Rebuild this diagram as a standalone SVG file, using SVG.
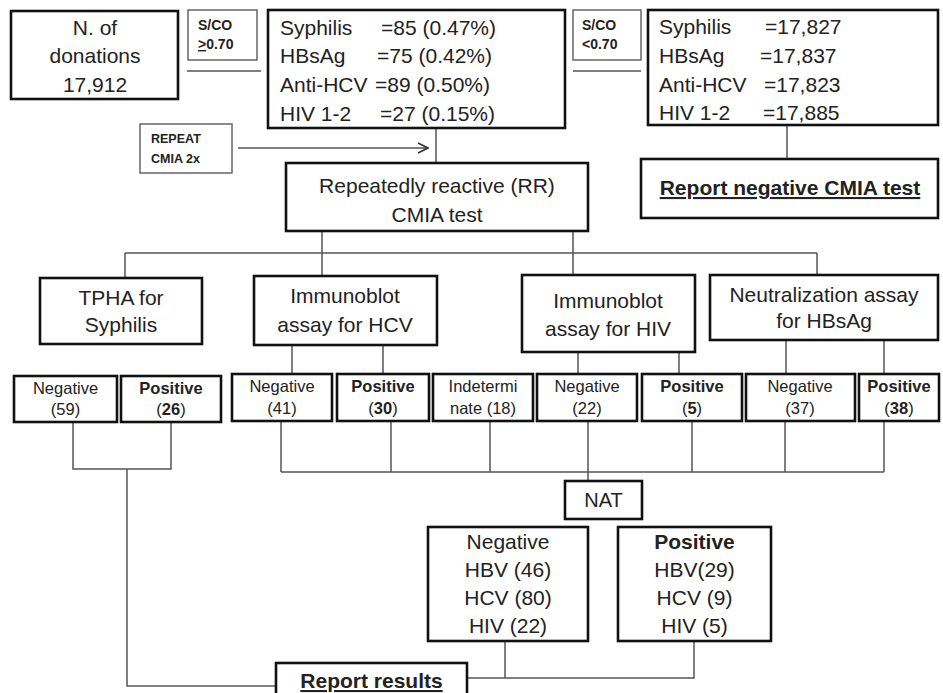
<svg xmlns="http://www.w3.org/2000/svg" width="943" height="693" viewBox="0 0 943 693">
<defs>
<marker id="chev" markerWidth="12" markerHeight="12" refX="11" refY="6" orient="auto" markerUnits="userSpaceOnUse">
<path d="M1,1 L11,6 L1,11" fill="none" stroke="#333" stroke-width="1.6"/>
</marker>
<style>
text{font-family:"Liberation Sans",Arial,sans-serif;fill:#222}
.box{fill:#fff;stroke:#111;stroke-width:2.6}
.thin{fill:#fff;stroke:#666;stroke-width:1.5}
.ln{fill:none;stroke:#555;stroke-width:1.5}
.big{font-size:21px}
.mid{font-size:16.5px}
.lbl{font-size:14px;font-weight:bold}
.c{text-anchor:middle}
.b{font-weight:bold}
.u{text-decoration:underline}
</style>
</defs>
<rect width="943" height="693" fill="#fff"/>

<g id="connectors">
<line class="ln" x1="187" y1="71" x2="261" y2="71"/>
<line class="ln" x1="573" y1="71" x2="641" y2="71"/>
<line class="ln" x1="787" y1="125" x2="787" y2="159"/>
<line class="ln" x1="436" y1="128" x2="436" y2="163"/>
<line class="ln" x1="238" y1="148" x2="428" y2="148" marker-end="url(#chev)"/>
<line class="ln" x1="125" y1="253" x2="817" y2="253"/>
<line class="ln" x1="322" y1="231" x2="322" y2="276"/>
<line class="ln" x1="573" y1="231" x2="573" y2="275"/>
<line class="ln" x1="125" y1="253" x2="125" y2="278"/>
<line class="ln" x1="817" y1="253" x2="817" y2="275"/>
<line class="ln" x1="292" y1="345" x2="292" y2="374"/>
<line class="ln" x1="383" y1="345" x2="383" y2="374"/>
<line class="ln" x1="578" y1="352" x2="578" y2="374"/>
<line class="ln" x1="679" y1="352" x2="679" y2="374"/>
<line class="ln" x1="786" y1="340" x2="786" y2="374"/>
<line class="ln" x1="884" y1="340" x2="884" y2="374"/>
<polyline class="ln" points="73,422 73,469 171,469 171,422"/>
<polyline class="ln" points="127,469 127,686 276,686"/>
<line class="ln" x1="281" y1="472" x2="884" y2="472"/>
<line class="ln" x1="281" y1="421" x2="281" y2="472"/>
<line class="ln" x1="391" y1="421" x2="391" y2="472"/>
<line class="ln" x1="490" y1="421" x2="490" y2="472"/>
<line class="ln" x1="588" y1="421" x2="588" y2="481"/>
<line class="ln" x1="692" y1="421" x2="692" y2="472"/>
<line class="ln" x1="785" y1="421" x2="785" y2="472"/>
<line class="ln" x1="884" y1="421" x2="884" y2="472"/>
<line class="ln" x1="505" y1="641" x2="505" y2="678"/>
<polyline class="ln" points="467,678 694,678 694,641"/>
</g>

<g id="donations">
<rect class="box" x="11" y="11" width="167" height="88"/>
<text class="big c" x="95" y="35">N. of</text>
<text class="big c" x="95" y="63">donations</text>
<text class="big c" x="95" y="92">17,912</text>
</g>

<g id="sco-high">
<rect class="thin" x="188" y="10" width="69" height="50"/>
<text class="lbl" x="198" y="30">S/CO</text>
<text class="lbl" x="198" y="49"><tspan class="u">&gt;</tspan>0.70</text>
</g>

<g id="reactive">
<rect class="box" x="268" y="10" width="297" height="118"/>
<text class="big" x="280" y="35">Syphilis</text><text class="big" x="381" y="35">=85 (0.47%)</text>
<text class="big" x="280" y="63">HBsAg</text><text class="big" x="377" y="63">=75 (0.42%)</text>
<text class="big" x="280" y="92">Anti-HCV</text><text class="big" x="375" y="92">=89 (0.50%)</text>
<text class="big" x="280" y="121">HIV 1-2</text><text class="big" x="380" y="121">=27 (0.15%)</text>
</g>

<g id="sco-low">
<rect class="thin" x="573" y="10" width="68" height="50"/>
<text class="lbl" x="582" y="30">S/CO</text>
<text class="lbl" x="582" y="49">&lt;0.70</text>
</g>

<g id="nonreactive">
<rect class="box" x="648" y="10" width="290" height="115"/>
<text class="big" x="659" y="34">Syphilis</text><text class="big" x="765" y="34">=17,827</text>
<text class="big" x="659" y="63">HBsAg</text><text class="big" x="760" y="63">=17,837</text>
<text class="big" x="659" y="92">Anti-HCV</text><text class="big" x="764" y="92">=17,823</text>
<text class="big" x="659" y="120">HIV 1-2</text><text class="big" x="763" y="120">=17,885</text>
</g>

<g id="report-negative">
<rect class="box" x="641" y="159" width="297" height="59"/>
<text class="big c b u" x="790" y="195">Report negative CMIA test</text>
</g>

<g id="repeat">
<rect class="thin" x="140" y="124" width="92" height="49"/>
<text class="lbl" x="151" y="143" style="font-size:12.5px">REPEAT</text>
<text class="lbl" x="151" y="163" style="font-size:12.5px">CMIA 2x</text>
</g>

<g id="rr">
<rect class="box" x="286" y="163" width="302" height="68"/>
<text class="big c" x="437" y="193">Repeatedly reactive (RR)</text>
<text class="big c" x="437" y="222">CMIA test</text>
</g>

<g id="tpha">
<rect class="box" x="40" y="278" width="162" height="66"/>
<text class="big c" x="121" y="305">TPHA for</text>
<text class="big c" x="121" y="332">Syphilis</text>
</g>

<g id="ib-hcv">
<rect class="box" x="254" y="276" width="183" height="69"/>
<text class="big c" x="345" y="303">Immunoblot</text>
<text class="big c" x="345" y="332">assay for HCV</text>
</g>

<g id="ib-hiv">
<rect class="box" x="522" y="275" width="173" height="77"/>
<text class="big c" x="608" y="308">Immunoblot</text>
<text class="big c" x="608" y="336">assay for HIV</text>
</g>

<g id="neutral">
<rect class="box" x="710" y="275" width="228" height="65"/>
<text class="big c" x="824" y="302">Neutralization assay</text>
<text class="big c" x="824" y="328">for HBsAg</text>
</g>

<g id="syp-neg">
<rect class="box" x="14" y="376" width="103" height="46"/>
<text class="mid c" x="65.5" y="394">Negative</text>
<text class="mid c" x="65.5" y="415">(59)</text>
</g>
<g id="syp-pos">
<rect class="box" x="121" y="376" width="100" height="46"/>
<text class="mid c b" x="171" y="394">Positive</text>
<text class="mid c" x="171" y="415">(<tspan class="b">26</tspan>)</text>
</g>
<g id="hcv-neg">
<rect class="box" x="232" y="374" width="100" height="47"/>
<text class="mid c" x="282" y="392">Negative</text>
<text class="mid c" x="282" y="414">(41)</text>
</g>
<g id="hcv-pos">
<rect class="box" x="337" y="374" width="92" height="47"/>
<text class="mid c b" x="383" y="392">Positive</text>
<text class="mid c" x="383" y="414">(<tspan class="b">30</tspan>)</text>
</g>
<g id="hcv-ind">
<rect class="box" x="433" y="374" width="100" height="47"/>
<text class="mid c" x="483" y="392">Indetermi</text>
<text class="mid c" x="483" y="414">nate (18)</text>
</g>
<g id="hiv-neg">
<rect class="box" x="537" y="374" width="100" height="47"/>
<text class="mid c" x="587" y="392">Negative</text>
<text class="mid c" x="587" y="414">(22)</text>
</g>
<g id="hiv-pos">
<rect class="box" x="642" y="374" width="100" height="47"/>
<text class="mid c b" x="692" y="392">Positive</text>
<text class="mid c" x="692" y="414">(<tspan class="b">5</tspan>)</text>
</g>
<g id="hbs-neg">
<rect class="box" x="746" y="374" width="109" height="47"/>
<text class="mid c" x="800" y="392">Negative</text>
<text class="mid c" x="800" y="414">(37)</text>
</g>
<g id="hbs-pos">
<rect class="box" x="859" y="374" width="80" height="47"/>
<text class="mid c b" x="899" y="392">Positive</text>
<text class="mid c" x="899" y="414">(<tspan class="b">38</tspan>)</text>
</g>

<g id="nat">
<rect class="box" x="565" y="481" width="77" height="38"/>
<text class="c" x="603.5" y="507" style="font-size:20px">NAT</text>
</g>

<g id="nat-neg">
<rect class="box" x="428" y="527" width="160" height="114"/>
<text class="big c" x="508" y="549">Negative</text>
<text class="big c" x="508" y="577">HBV (46)</text>
<text class="big c" x="508" y="605">HCV (80)</text>
<text class="big c" x="508" y="633">HIV (22)</text>
</g>

<g id="nat-pos">
<rect class="box" x="618" y="527" width="153" height="114"/>
<text class="big c b" x="694.5" y="549">Positive</text>
<text class="big c" x="694.5" y="577">HBV(29)</text>
<text class="big c" x="694.5" y="605">HCV (9)</text>
<text class="big c" x="694.5" y="633">HIV (5)</text>
</g>

<g id="report-results">
<rect class="box" x="276" y="663" width="191" height="40"/>
<text class="big c b u" x="371.5" y="688">Report results</text>
</g>
</svg>
